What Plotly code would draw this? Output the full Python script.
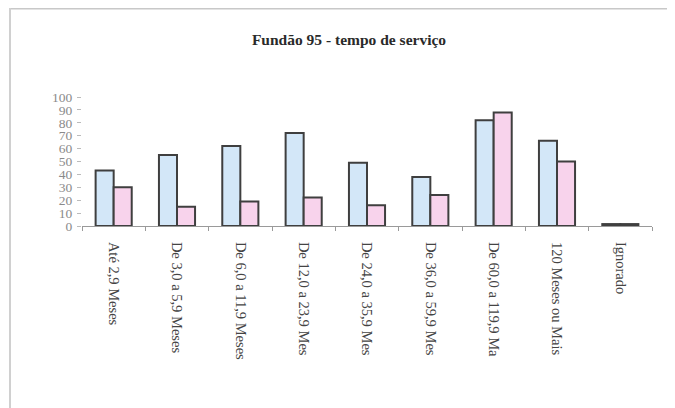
import plotly.graph_objects as go

categorias = ["Até 2,9 Meses", "De 3,0 a 5,9 Meses", "De 6,0 a 11,9 Meses",
              "De 12,0 a 23,9 Mes", "De 24,0 a 35,9 Mes", "De 36,0 a 59,9 Mes",
              "De 60,0 a 119,9 Ma", "120 Meses ou Mais", "Ignorado"]
serie1 = [43, 55, 62, 72, 49, 38, 82, 66, 1.5]
serie2 = [30, 15, 19, 22, 16, 24, 88, 50, 1.5]
y_ticks = [0, 10, 20, 30, 40, 50, 60, 70, 80, 90, 100]

# page body has an 8px margin, so the figure is drawn 8px in from the window corner
OFF = 8
W, H = 675 - OFF, 408 - OFF
L, R, T, B = 82 - OFF, 652 - OFF, 97 - OFF, 226 - OFF

fig = go.Figure()
fig.add_trace(go.Bar(x=categorias, y=serie1, name="Série1",
                     marker=dict(color="#d3e7f8", line=dict(color="#3f3f3f", width=2))))
fig.add_trace(go.Bar(x=categorias, y=serie2, name="Série2",
                     marker=dict(color="#f8d3ec", line=dict(color="#3f3f3f", width=2))))

def px(x):
    return (x - L) / (R - L)

def py(y):
    return (B - y) / (B - T)

fig.update_layout(
    width=W, height=H,
    margin=dict(l=L, r=W - R, t=T, b=H - B, pad=0, autoexpand=False),
    paper_bgcolor="#ffffff", plot_bgcolor="#ffffff",
    showlegend=False,
    barmode="group", bargap=0.43, bargroupgap=0,
    font=dict(family="Liberation Serif", color="#444444"),
    title=dict(text="<b>Fundão 95 - tempo de serviço</b>", x=(349 - OFF) / W, xanchor="center",
               y=1 - (40 - OFF) / H, yanchor="middle",
               font=dict(family="Liberation Serif", size=15.5, color="#2a2a2a")),
    xaxis=dict(showgrid=False, showline=True, linecolor="#9a9a9a", linewidth=1,
               ticks="outside", tickson="boundaries", ticklen=4, tickcolor="#9a9a9a",
               tickangle=90, ticklabelstandoff=12, automargin=False,
               tickfont=dict(family="Liberation Serif", size=14.5, color="#444444")),
    yaxis=dict(range=[0, 100], tickvals=y_ticks, showgrid=False, showline=False,
               zeroline=False, ticks="outside", ticklen=4, tickcolor="#bbbbbb",
               automargin=False, ticklabelstandoff=2,
               tickfont=dict(family="Liberation Serif", size=13.5, color="#8a8a8a")),
    shapes=[
        dict(type="line", xref="paper", yref="paper", x0=px(2), x1=px(W), y0=py(0.5), y1=py(0.5),
             line=dict(color="#c8c8c8", width=2)),
        dict(type="line", xref="paper", yref="paper", x0=px(2), x1=px(2), y0=py(0), y1=py(H),
             line=dict(color="#d0d0d0", width=2)),
    ],
)

fig.write_html("out.html")
